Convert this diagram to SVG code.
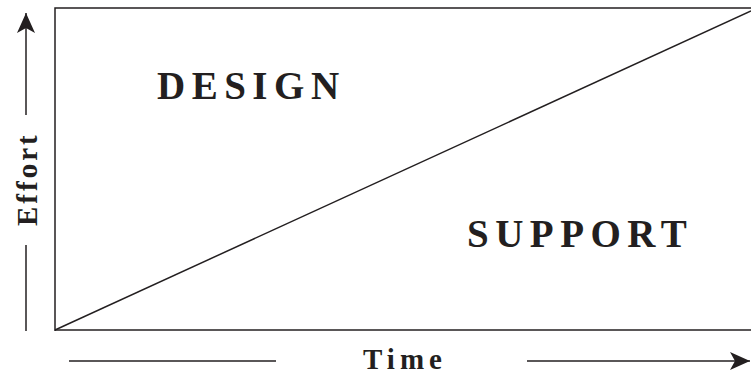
<svg xmlns="http://www.w3.org/2000/svg" width="751" height="377" viewBox="0 0 751 377">
<defs>
<style>
.ln{stroke:#231f20;stroke-width:1.5;fill:none}
.lbl{font-family:"Liberation Serif","Times New Roman",serif;font-weight:bold;fill:#231f20}
.big{font-size:39px;letter-spacing:6.5px}
.ax{font-size:29px;letter-spacing:5px}
</style>
<marker id="ah" viewBox="0 0 20 18" refX="20" refY="9" markerWidth="20" markerHeight="18" markerUnits="userSpaceOnUse" orient="auto">
<path d="M0,0 L20,9 L0,18 L5,9 Z" fill="#231f20"/>
</marker>
</defs>
<rect width="751" height="377" fill="#fff"/>
<g id="connectors">
<path class="ln" d="M55,331 L55,8 L751,8"/>
<path class="ln" d="M55,330 L751,330"/>
<path id="diagonal" class="ln" d="M55,330 L751,11"/>
<path class="ln" d="M26,115 L26,13" marker-end="url(#ah)"/>
<path class="ln" d="M26,245 L26,331"/>
<path class="ln" d="M69,361 L276,361"/>
<path class="ln" d="M527,361 L750,361" marker-end="url(#ah)"/>
</g>
<g id="design"><text class="lbl big" x="157" y="99">DESIGN</text></g>
<g id="support"><text class="lbl big" x="467" y="247">SUPPORT</text></g>
<g id="time"><text class="lbl ax" x="363" y="369">Time</text></g>
<g id="effort"><text class="lbl ax" transform="translate(37,226) rotate(-90)" x="0" y="0" style="letter-spacing:3px">Effort</text></g>
</svg>
